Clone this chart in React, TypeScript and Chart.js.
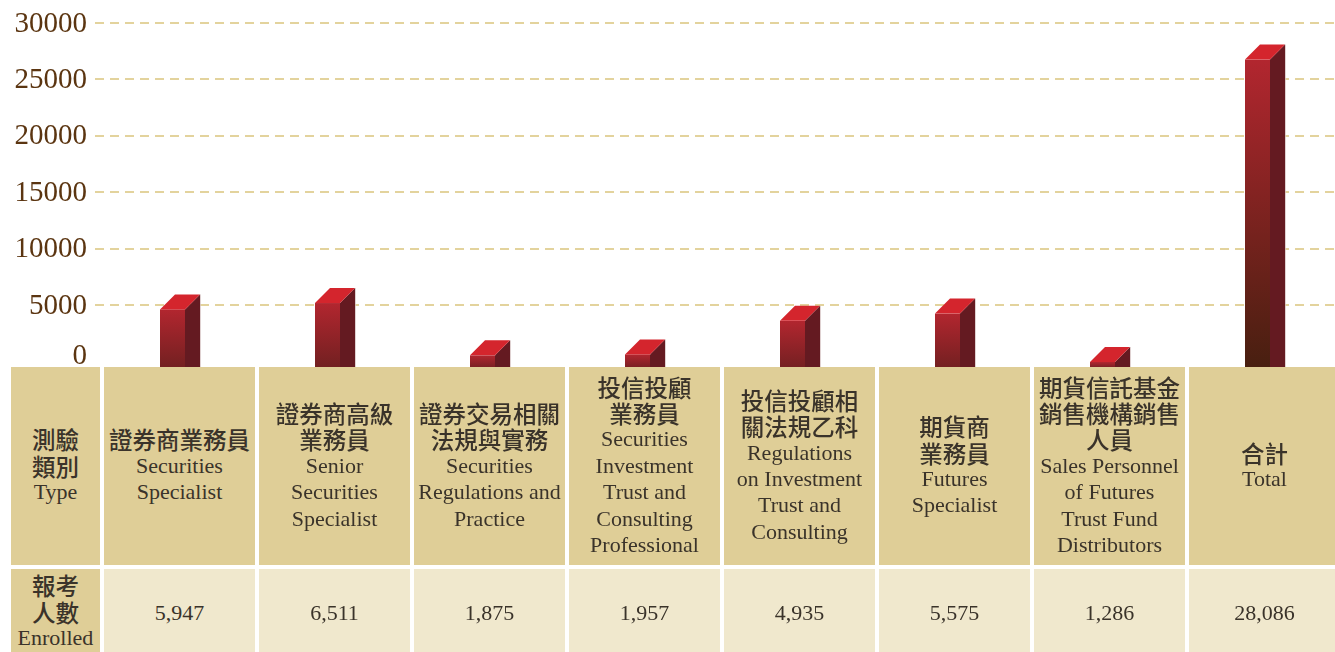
import React, { useEffect, useRef } from 'react';
import { Chart, registerables } from 'chart.js';

Chart.register(...registerables);

// ---- data ----
const categoriesZh: string[][] = [
  ['證券商業務員'],
  ['證券商高級', '業務員'],
  ['證券交易相關', '法規與實務'],
  ['投信投顧', '業務員'],
  ['投信投顧相', '關法規乙科'],
  ['期貨商', '業務員'],
  ['期貨信託基金', '銷售機構銷售', '人員'],
  ['合計'],
];
const categoriesEn: string[][] = [
  ['Securities', 'Specialist'],
  ['Senior', 'Securities', 'Specialist'],
  ['Securities', 'Regulations and', 'Practice'],
  ['Securities', 'Investment', 'Trust and', 'Consulting', 'Professional'],
  ['Regulations', 'on Investment', 'Trust and', 'Consulting'],
  ['Futures', 'Specialist'],
  ['Sales Personnel', 'of Futures', 'Trust Fund', 'Distributors'],
  ['Total'],
];
const enrolled: number[] = [5947, 6511, 1875, 1957, 4935, 5575, 1286, 28086];
const yTicks: number[] = [0, 5000, 10000, 15000, 20000, 25000, 30000];
const typeHeader: string[] = ['測驗', '類別', 'Type'];
const enrolledHeader: string[] = ['報考', '人數', 'Enrolled'];

// ---- layout ----
const W = 1335;
const H = 652;
const TABLE_TOP = 367;
const HEADER_H = 198;
const ROW_GAP = 4;
const DATA_TOP = TABLE_TOP + HEADER_H + ROW_GAP;
const FIRST_COL_LEFT = 11;
const FIRST_COL_W = 89;
const COL_LEFT0 = 104;
const COL_PITCH = 155;
const COL_W = 151;
const DEPTH = 15;

const FONT = '"Liberation Serif", "Noto Sans CJK TC", serif';

function mix(a: number[], b: number[], t: number) {
  const c = a.map((v, i) => Math.round(v + (b[i] - v) * t));
  return `rgb(${c[0]},${c[1]},${c[2]})`;
}

const bar3dPlugin = {
  id: 'bar3d',
  beforeDatasetsDraw(chart: any) {
    const { ctx, chartArea, scales } = chart;
    const y = scales.y;
    ctx.save();
    ctx.setLineDash([9, 6]);
    ctx.lineWidth = 2;
    ctx.strokeStyle = '#e3d39d';
    yTicks.forEach((v) => {
      if (v === 0) return;
      const py = Math.round(y.getPixelForValue(v));
      ctx.beginPath();
      ctx.moveTo(chartArea.left, py);
      ctx.lineTo(chart.width, py);
      ctx.stroke();
    });
    ctx.setLineDash([]);
    ctx.font = `29px "Liberation Serif", serif`;
    ctx.fillStyle = '#5b3511';
    ctx.textAlign = 'right';
    ctx.textBaseline = 'middle';
    yTicks.forEach((v) => {
      const py = Math.min(y.getPixelForValue(v), TABLE_TOP - 12);
      ctx.fillText(String(v), 87, py + 1);
    });
    ctx.restore();
  },
  afterDatasetsDraw(chart: any) {
    const { ctx } = chart;
    const meta = chart.getDatasetMeta(0);
    const els = meta.data.map((el: any) => el.getProps(['x', 'y', 'base', 'width'], true));
    const maxH = Math.max(...els.map((e: any) => e.base - e.y));
    ctx.save();
    els.forEach((e: any) => {
      const w = e.width;
      const x0 = e.x - w / 2;
      const x1 = e.x + w / 2;
      const yBack = e.y;
      const yFront = e.y + DEPTH;
      const base = e.base;
      const t = (base - e.y) / maxH;
      // side face
      ctx.fillStyle = '#641a21';
      ctx.beginPath();
      ctx.moveTo(x1, yFront);
      ctx.lineTo(x1 + DEPTH, yBack);
      ctx.lineTo(x1 + DEPTH, base);
      ctx.lineTo(x1, base);
      ctx.closePath();
      ctx.fill();
      // front face
      const g = ctx.createLinearGradient(0, yFront, 0, base);
      g.addColorStop(0, '#b2262f');
      g.addColorStop(1, mix([128, 32, 38], [72, 31, 16], Math.min(1, t)));
      ctx.fillStyle = g;
      ctx.fillRect(x0, yFront, w, base - yFront);
      // top face
      ctx.fillStyle = '#d4252d';
      ctx.beginPath();
      ctx.moveTo(x0, yFront);
      ctx.lineTo(x0 + DEPTH, yBack);
      ctx.lineTo(x1 + DEPTH, yBack);
      ctx.lineTo(x1, yFront);
      ctx.closePath();
      ctx.fill();
      // faint light edge
      ctx.strokeStyle = 'rgba(210,190,190,0.7)';
      ctx.lineWidth = 1;
      ctx.beginPath();
      ctx.moveTo(x1 + DEPTH + 0.5, yBack);
      ctx.lineTo(x1 + DEPTH + 0.5, base);
      ctx.stroke();
    });
    ctx.restore();
  },
};

const cellBase: React.CSSProperties = {
  position: 'absolute',
  display: 'flex',
  flexDirection: 'column',
  justifyContent: 'center',
  alignItems: 'center',
  textAlign: 'center',
  fontFamily: FONT,
  color: '#3a332a',
  lineHeight: '26.4px',
  whiteSpace: 'nowrap',
  overflow: 'hidden',
};

const HEADER_BG = '#dfce97';
const DATA_BG = '#f0e8cd';

function Lines({ zh, en }: { zh: string[]; en: string[] }) {
  return (
    <>
      {zh.map((s, i) => (
        <div key={'z' + i} style={{ fontSize: 23.5, fontWeight: 500, fontFamily: '"Noto Sans CJK TC", sans-serif' }}>{s}</div>
      ))}
      {en.map((s, i) => (
        <div key={'e' + i} style={{ fontSize: 22 }}>{s}</div>
      ))}
    </>
  );
}

export default function App() {
  const canvasRef = useRef<HTMLCanvasElement | null>(null);

  useEffect(() => {
    if (!canvasRef.current) return;
    const chart = new Chart(canvasRef.current, {
      type: 'bar',
      data: {
        labels: categoriesZh.map((z) => z.join('')),
        datasets: [
          {
            data: enrolled,
            backgroundColor: 'rgba(0,0,0,0)',
            borderWidth: 0,
            barThickness: 25,
            base: -490,
            clip: false as any,
          } as any,
        ],
      },
      options: {
        responsive: false,
        animation: false,
        layout: { padding: { left: 95, right: 0, top: 23, bottom: H - 361.5 } },
        scales: {
          x: { display: false },
          y: { display: false, min: 0, max: 30000 },
        },
        plugins: { legend: { display: false }, tooltip: { enabled: false } },
      },
      plugins: [bar3dPlugin],
    });
    return () => chart.destroy();
  }, []);

  return (
    <div style={{ position: 'fixed', left: 0, top: 0, width: W, height: H, background: '#fff', overflow: 'hidden' }}>
      <canvas ref={canvasRef} width={W} height={H} style={{ position: 'absolute', left: 0, top: 0, display: 'block' }} />
      {/* header row */}
      <div style={{ ...cellBase, left: FIRST_COL_LEFT, top: TABLE_TOP, width: FIRST_COL_W, height: HEADER_H, background: HEADER_BG }}>
        <Lines zh={typeHeader.slice(0, 2)} en={typeHeader.slice(2)} />
      </div>
      {categoriesZh.map((zh, i) => (
        <div
          key={'h' + i}
          style={{
            ...cellBase,
            left: COL_LEFT0 + Math.round(COL_PITCH * i),
            top: TABLE_TOP,
            width: COL_W,
            height: HEADER_H,
            background: HEADER_BG,
          }}
        >
          <Lines zh={zh} en={categoriesEn[i]} />
        </div>
      ))}
      {/* data row */}
      <div
        style={{
          ...cellBase,
          left: FIRST_COL_LEFT,
          top: DATA_TOP,
          width: FIRST_COL_W,
          height: H - DATA_TOP,
          background: HEADER_BG,
          paddingTop: 3,
          boxSizing: 'border-box',
        }}
      >
        <Lines zh={enrolledHeader.slice(0, 2)} en={enrolledHeader.slice(2)} />
      </div>
      {enrolled.map((v, i) => (
        <div
          key={'d' + i}
          style={{
            ...cellBase,
            left: COL_LEFT0 + Math.round(COL_PITCH * i),
            top: DATA_TOP,
            width: COL_W,
            height: H - DATA_TOP,
            background: DATA_BG,
            fontSize: 22,
            paddingTop: 5,
            boxSizing: 'border-box',
          }}
        >
          {v.toLocaleString('en-US')}
        </div>
      ))}
    </div>
  );
}
